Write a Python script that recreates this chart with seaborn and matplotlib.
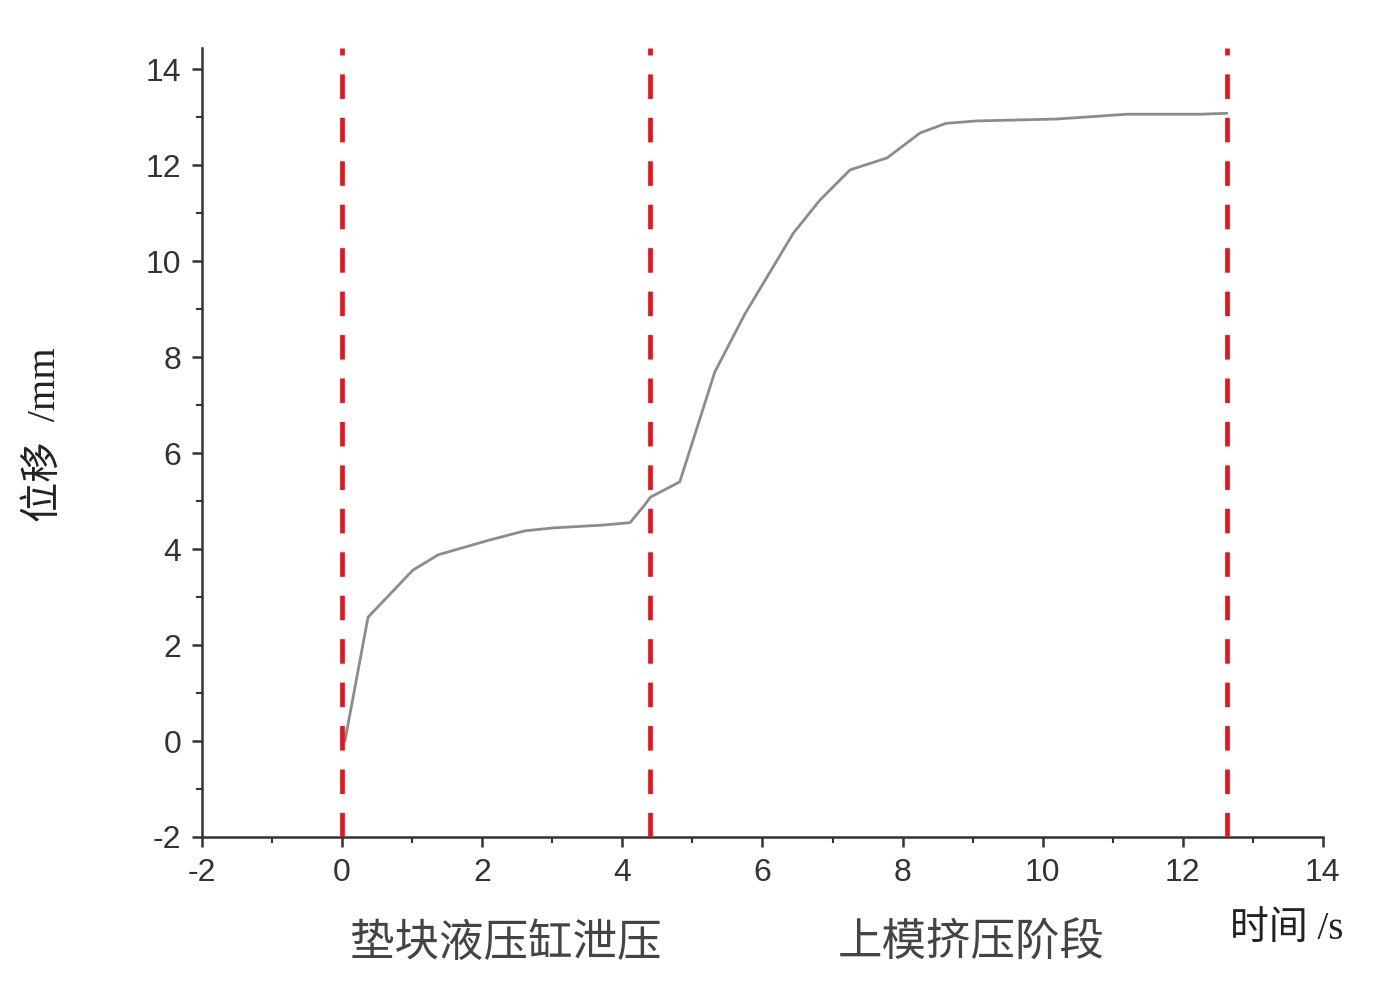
import seaborn as sns
import matplotlib.pyplot as plt
from matplotlib.ticker import MultipleLocator
import pandas as pd

# displacement curve
time_s = [0.04, 0.37, 1.01, 1.37, 2.11, 2.61, 3.01, 3.73, 4.11, 4.32, 4.40, 4.82,
          5.32, 5.75, 6.44, 6.82, 7.25, 7.78, 8.25, 8.62, 9.05, 10.2, 11.2, 12.25, 12.63]
disp_mm = [0.0, 2.58, 3.56, 3.88, 4.19, 4.38, 4.44, 4.50, 4.55, 4.92, 5.08, 5.40,
           7.69, 8.90, 10.58, 11.27, 11.90, 12.15, 12.67, 12.87, 12.92, 12.96, 13.06, 13.06, 13.08]

stage_bounds = [0.0, 4.4, 12.63]
stage_names = ["垫块液压缸泄压", "上模挤压阶段"]
stage_label_x = [0.367, 0.705]

sns.set_theme(style="white")
plt.rcParams['font.family'] = ['Liberation Sans', 'Noto Sans CJK SC']
plt.rcParams['axes.unicode_minus'] = False

df = pd.DataFrame({"t": time_s, "d": disp_mm})

fig = plt.figure(figsize=(13.78, 10), dpi=100)
ax = fig.add_axes([0.1466, 0.163, 0.8134, 0.789])

sns.lineplot(data=df, x="t", y="d", ax=ax, color="#8c8c8c", linewidth=2.0, zorder=2)
for xb in stage_bounds:
	ax.axvline(xb, color="#e8141c", linewidth=3.4, dashes=(5.2, 4.0), zorder=3)

ax.set_xlim(-2, 14)
ax.set_ylim(-2, 14.44)
ax.xaxis.set_major_locator(MultipleLocator(2))
ax.xaxis.set_minor_locator(MultipleLocator(1))
ax.yaxis.set_major_locator(MultipleLocator(2))
ax.yaxis.set_minor_locator(MultipleLocator(1))
ax.set_xlabel("")
ax.set_ylabel("")

for side in ["top", "right"]:
	ax.spines[side].set_visible(False)
for side in ["left", "bottom"]:
	ax.spines[side].set_color("#333333")
	ax.spines[side].set_linewidth(1.8)

ax.tick_params(which="major", direction="out", length=7, width=1.8, color="#333333",
               labelsize=23, labelcolor="#333333", pad=8)
ax.tick_params(which="minor", direction="out", length=4, width=1.5, color="#333333")
ax.tick_params(axis="x", which="both", bottom=True)
ax.tick_params(axis="y", which="both", left=True)

for name, xt in zip(stage_names, stage_label_x):
	fig.text(xt, 0.057, name, ha="center", va="center", fontsize=32, color="#444444",
	         family=['Noto Sans CJK SC'])

fig.text(0.934, 0.07, "时间 /s", ha="center", va="center", fontsize=28, color="#222222",
         family=['Liberation Serif', 'Noto Sans CJK SC'])
fig.text(0.033, 0.565, "位移  /mm", ha="center", va="center", fontsize=29, color="#222222",
         rotation=90, family=['Liberation Serif', 'Noto Sans CJK SC'])

fig.savefig("out.png", dpi=100, facecolor="white")
